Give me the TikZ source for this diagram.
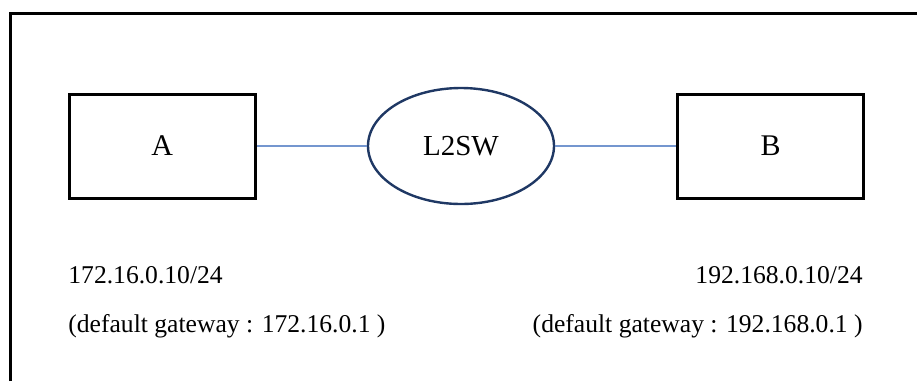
\documentclass[tikz,border=0pt]{standalone}
\usepackage{fontspec}
\setmainfont{Liberation Serif}
\usepackage{tikz}
\usetikzlibrary{positioning}
\usetikzlibrary{shapes.geometric}

\definecolor{linkblue}{RGB}{116,150,207}
\definecolor{swnavy}{RGB}{31,56,100}

\begin{document}
\begin{tikzpicture}[x=0.5pt, y=-0.5pt,
    hostnode/.style={rectangle, draw=black, line width=1.5pt, minimum width=93pt, minimum height=52pt, font=\fontsize{15}{18}\selectfont},
    swnode/.style={ellipse, draw=swnavy, line width=1.2pt, minimum width=93pt, minimum height=58pt, inner sep=0pt, font=\fontsize{14.5}{17}\selectfont},
    link/.style={draw=linkblue, line width=0.75pt},
    addr/.style={inner sep=0pt, font=\fontsize{12.8}{16}\selectfont}]
        \useasboundingbox (0,0) rectangle (917,381);
        \draw[line width=1.5pt] (10,381) -- (10,13) -- (917,13);

        \node[swnode] (sw) at (461,146) {L2SW};
        \node[hostnode] (hostA) [left=55pt of sw] {A};
        \node[hostnode] (hostB) [right=60.5pt of sw] {B};

        \node[addr, anchor=base west] (ipA) at (68,283) {172.16.0.10/24};
        \node[addr, anchor=base west] (gwA) at (68,332) {(default gateway : 172.16.0.1 )};
        \node[addr, anchor=base east] (ipB) at (863,283) {192.168.0.10/24};
        \node[addr, anchor=base east] (gwB) at (863,332) {(default gateway : 192.168.0.1 )};

        \draw[link] (hostA) -- (sw);
        \draw[link] (sw) -- (hostB);
    \end{tikzpicture}
\end{document}
